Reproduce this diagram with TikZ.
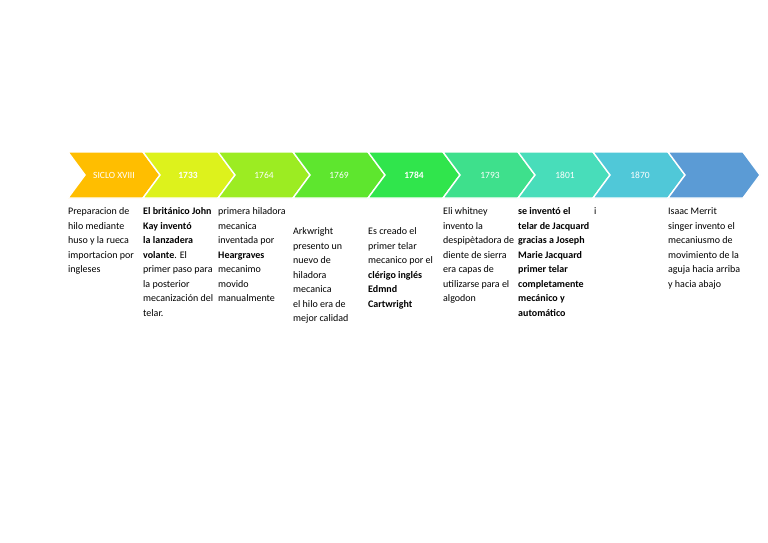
\documentclass[tikz,border=0pt]{standalone}
\usepackage{fontspec}
\setmainfont{Carlito}
\definecolor{ch1}{HTML}{FFBE00}
\definecolor{ch2}{HTML}{DDF21C}
\definecolor{ch3}{HTML}{9CEC22}
\definecolor{ch4}{HTML}{5EE62E}
\definecolor{ch5}{HTML}{30E54C}
\definecolor{ch6}{HTML}{3EE08C}
\definecolor{ch7}{HTML}{48DDBA}
\definecolor{ch8}{HTML}{50C8D8}
\definecolor{ch9}{HTML}{5B9BD5}
\tikzset{
  chev/.style={draw=white, line width=1.4pt, line join=miter},
  chevlabel/.style={text=white, font=\fontsize{9.5}{10}\selectfont, inner sep=0pt},
  col/.style={anchor=north west, inner sep=0pt, align=left,
    font=\fontsize{10}{14.5}\selectfont},
}
\begin{document}
\begin{tikzpicture}[x=1pt,y=-1pt]
\useasboundingbox (0,0) rectangle (768,543);
\fill[white] (0,0) rectangle (768,543);
% chevrons
\foreach \i/\c in {0/ch1,1/ch2,2/ch3,3/ch4,4/ch5,5/ch6,6/ch7,7/ch8,8/ch9}{
  \pgfmathsetmacro{\xo}{68+75*\i}
  \filldraw[chev, fill=\c] (\xo,152) -- (\xo+75,152) -- (\xo+92,175) -- (\xo+75,198) -- (\xo,198) -- (\xo+17,175) -- cycle;
}
\node[chevlabel] (l1) at (114,175) {SICLO XVIII};
\node[chevlabel] (l2) at (188,175) {\bfseries 1733};
\node[chevlabel] (l3) at (264,175) {1764};
\node[chevlabel] (l4) at (339,175) {1769};
\node[chevlabel] (l5) at (414,175) {\bfseries 1784};
\node[chevlabel] (l6) at (490,175) {1793};
\node[chevlabel] (l7) at (565,175) {1801};
\node[chevlabel] (l8) at (640,175) {1870};
% texts
\node[col] (c1) at (68,207.5) {Preparacion de\\hilo mediante\\huso y la rueca\\importacion por\\ingleses};
\node[col] (c2) at (143,207.5) {\textbf{El británico John}\\\textbf{Kay inventó}\\\textbf{la lanzadera}\\\textbf{volante}. El\\primer paso para\\la posterior\\mecanización del\\telar.};
\node[col] (c3) at (218,207.5) {primera hiladora\\mecanica\\inventada por\\\textbf{Heargraves}\\mecanimo\\movido\\manualmente};
\node[col] (c4) at (293,227.5) {Arkwright\\presento un\\nuevo de\\hiladora\\mecanica\\el hilo era de\\mejor calidad};
\node[col] (c5) at (368,227.5) {Es creado el\\primer telar\\mecanico por el\\\textbf{clérigo inglés}\\\textbf{Edmnd}\\\textbf{Cartwright}};
\node[col] (c6) at (443,207.5) {Eli whitney\\invento la\\despipètadora de\\diente de sierra\\era capas de\\utilizarse para el\\algodon};
\node[col, font=\fontsize{10}{14.5}\selectfont\bfseries] (c7) at (518,207.5) {se inventó el\\telar de Jacquard\\gracias a Joseph\\Marie Jacquard\\primer telar\\completamente\\mecánico y\\automático};
\node[col] (c8) at (594,207.5) {i};
\node[col] (c9) at (668,207.5) {Isaac Merrit\\singer invento el\\mecaniusmo de\\movimiento de la\\aguja hacia arriba\\y hacia abajo};
\end{tikzpicture}
\end{document}
